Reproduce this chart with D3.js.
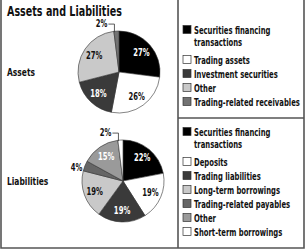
<!DOCTYPE html>
<html>
<head>
<meta charset="utf-8">
<script src="https://cdn.jsdelivr.net/npm/d3@7"></script>
<style>
  body { margin: 0; background: #fff; }
  svg text { font-family: "Liberation Sans Narrow", "DejaVu Sans Condensed", "Liberation Sans", sans-serif; fill: #111; }
</style>
</head>
<body>
<svg id="chart"></svg>
<script>
// data
const assetCategories = ['Securities financing transactions', 'Trading assets', 'Investment securities', 'Other', 'Trading-related receivables']
const assetValues = [27, 26, 18, 27, 2]
const liabCategories = ['Securities financing transactions', 'Deposits', 'Trading liabilities', 'Long-term borrowings', 'Trading-related payables', 'Other', 'Short-term borrowings']
const liabValues = [22, 19, 19, 19, 4, 15, 2]

const assetColors = ['#000000', '#ffffff', '#3a3a3a', '#c9c9c9', '#727272']
const liabColors = ['#000000', '#ffffff', '#3a3a3a', '#c9c9c9', '#666666', '#9a9a9a', '#ffffff']

const W = 305, H = 249
const svg = d3.select('#chart').attr('width', W).attr('height', H)

// the original uses a condensed face, so squeeze the installed font to the same width
const probe = svg.append('text').style('font-size', '10px').style('font-weight', 700)
    .text('Trading-related receivables')
const sx = Math.min(1, 106 / probe.node().getComputedTextLength())
probe.remove()

function label(parent, x, y, str, size, weight, anchor, fill) {
    return parent.append('text')
        .attr('transform', `translate(${x},${y}) scale(${sx},1)`)
        .attr('text-anchor', anchor || 'start')
        .style('font-size', size + 'px').style('font-weight', weight)
        .style('fill', fill || '#111')
        .text(str)
}

// frame
const frame = svg.append('g').attr('stroke', '#555').attr('stroke-width', 1.6).attr('fill', 'none')
frame.append('path').attr('d', `M1,0 V248 H304 V0`)
frame.append('line').attr('x1', 178).attr('x2', 178).attr('y1', 0).attr('y2', 248)
frame.append('line').attr('x1', 178).attr('x2', 304).attr('y1', 118).attr('y2', 118)

label(svg, 7, 16, 'Assets and Liabilities', 14, 900)

function drawPie(cx, cy, values, colors, title) {
    const r = 41
    const g = svg.append('g').attr('transform', `translate(${cx},${cy})`)
    const arcs = d3.pie().sort(null).value(d => d)(values)
    const arc = d3.arc().innerRadius(0).outerRadius(r)
    const labelArc = d3.arc().innerRadius(30).outerRadius(30)

    g.selectAll('path')
        .data(arcs)
        .join('path')
        .attr('d', arc)
        .attr('fill', (d, i) => colors[i])
        .attr('stroke', '#333')
        .attr('stroke-width', 0.6)

    arcs.forEach((d, i) => {
        const dark = d3.hsl(d3.color(colors[i])).l < 0.62
        if (d.data >= 10) {
            const [x, y] = labelArc.centroid(d)
            label(g, x, y + 3.5, d.data + '%', 10, 700, 'middle', dark ? '#fff' : '#111')
        } else if (d.data >= 4) {
            const [x, y] = d3.arc().innerRadius(50).outerRadius(50).centroid(d)
            label(g, x, y + 8, d.data + '%', 10, 700, 'middle')
        } else {
            // small slice at the top: label to the left with an elbow leader
            const [px, py] = d3.arc().innerRadius(r).outerRadius(r).centroid(d)
            const ly = py - 7
            g.append('path')
                .attr('d', `M${px - 8},${ly} H${px - 2} V${py + 1}`)
                .attr('fill', 'none').attr('stroke', '#333').attr('stroke-width', 0.8)
            label(g, px - 9, ly + 3, d.data + '%', 10, 700, 'end')
        }
    })

    label(svg, 7, cy + 4, title, 11, 900)
}

drawPie(119, 72, assetValues, assetColors, 'Assets')
drawPie(123, 181, liabValues, liabColors, 'Liabilities')

function drawLegend(y0, cats, colors) {
    const g = svg.append('g')
    let y = y0
    cats.forEach((name, i) => {
        const lines = name === 'Securities financing transactions'
            ? ['Securities financing', 'transactions'] : [name]
        g.append('rect').attr('x', 183).attr('y', y - 4.5).attr('width', 8).attr('height', 8)
            .attr('fill', colors[i]).attr('stroke', '#333').attr('stroke-width', 0.7)
        lines.forEach((t, j) => label(g, 194, y + 3.5 + j * 12, t, 10, 700))
        y += lines.length > 1 ? 30 : 14
    })
}

drawLegend(30, assetCategories, assetColors)
drawLegend(132, liabCategories, liabColors)
</script>
</body>
</html>
